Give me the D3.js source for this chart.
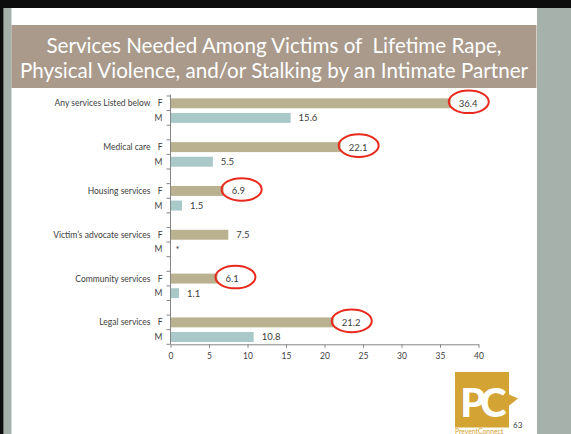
<!DOCTYPE html>
<html>
<head>
<meta charset="utf-8">
<script src="https://cdn.jsdelivr.net/npm/d3@7"></script>
<style>
  body { margin: 0; background: #fff; }
  svg { display: block; font-family: Lato, 'Open Sans', sans-serif; }
</style>
</head>
<body>
<svg id="chart"></svg>
<script>
const categories = [
  'Any services Listed below',
  'Medical care',
  'Housing services',
  'Victim\u2019s advocate services',
  'Community services',
  'Legal services'
]
const female = [36.4, 22.1, 6.9, 7.5, 6.1, 21.2]
const male = [15.6, 5.5, 1.5, null, 1.1, 10.8]
const circled = [true, true, true, false, true, true] // red rings round the F labels
const xTicks = [0, 5, 10, 15, 20, 25, 30, 35, 40]
const titleLines = [
  'Services Needed Among Victims of  Lifetime Rape,',
  'Physical Violence, and/or Stalking by an Intimate Partner'
]

const W = 571
const H = 434
const svg = d3.select('#chart').attr('width', W).attr('height', H)

// slide frame
svg.append('rect').attr('width', W).attr('height', H).attr('fill', '#fff')
svg.append('rect').attr('x', 537).attr('width', W - 537).attr('height', H).attr('fill', '#a6b1ac')
svg.append('rect').attr('x', 3.5).attr('width', 8).attr('height', H).attr('fill', '#a6b1ac')
svg.append('rect').attr('width', 3.5).attr('height', H).attr('fill', '#0d0d0d')
svg.append('rect').attr('width', W).attr('height', 8).attr('fill', '#0d0d0d')

// title banner
svg.append('rect').attr('x', 11.5).attr('y', 25).attr('width', 525).attr('height', 63).attr('fill', '#a99a8b')
svg.append('g').selectAll('text').data(titleLines).join('text')
  .attr('x', 274)
  .attr('y', (d, i) => 53 + i * 24.5)
  .attr('text-anchor', 'middle')
  .attr('fill', '#fff')
  .attr('font-size', 20.6)
  .style('white-space', 'pre')
  .text(d => d)

// rows: F, M, spacer for each category (no spacer after the last)
let rows = []
categories.forEach(function (c, i) {
  rows.push({key: i + 'F', cat: c, sex: 'F', value: female[i], ring: circled[i]})
  rows.push({key: i + 'M', sex: 'M', value: male[i]})
  if (i < categories.length - 1) rows.push({key: i + 'gap', sex: null})
})

let x = d3.scaleLinear().domain([0, 40]).range([170.5, 478.5])
let y = d3.scaleBand().domain(rows.map(r => r.key)).range([96, 344.3])
let bh = y.bandwidth() * 0.68
let bOff = (y.bandwidth() - bh) / 2

let g = svg.append('g')

// bars
g.selectAll('rect.bar').data(rows.filter(r => r.sex && r.value != null)).join('rect')
  .attr('class', 'bar')
  .attr('x', x(0))
  .attr('y', d => y(d.key) + bOff)
  .attr('width', d => x(d.value) - x(0))
  .attr('height', bh)
  .attr('fill', d => d.sex === 'F' ? '#b9b18f' : '#a9c8c8')

// value labels
g.selectAll('text.val').data(rows.filter(r => r.sex)).join('text')
  .attr('class', 'val')
  .attr('x', d => x(d.value || 0) + (d.value == null ? 5 : 8))
  .attr('y', d => y(d.key) + y.bandwidth() / 2)
  .attr('dy', '0.36em')
  .attr('font-size', 9.5)
  .attr('fill', '#404040')
  .text(d => d.value == null ? '*' : d.value)

// red rings
g.selectAll('ellipse').data(rows.filter(r => r.ring)).join('ellipse')
  .attr('cx', d => x(d.value) + 18)
  .attr('cy', d => y(d.key) + y.bandwidth() / 2 - 1.5)
  .attr('rx', 20)
  .attr('ry', 11.3)
  .attr('fill', 'none')
  .attr('stroke', '#e8291c')
  .attr('stroke-width', 2)

// y axis: line, ticks at row boundaries, labels
let bounds = rows.map(r => y(r.key)).concat([y.range()[1]])
g.append('line')
  .attr('x1', x(0)).attr('x2', x(0))
  .attr('y1', 94.5).attr('y2', y.range()[1])
  .attr('stroke', '#868686')
g.selectAll('line.ytick').data(bounds).join('line')
  .attr('class', 'ytick')
  .attr('x1', x(0) - 4).attr('x2', x(0))
  .attr('y1', d => d).attr('y2', d => d)
  .attr('stroke', '#868686')
g.selectAll('text.sex').data(rows.filter(r => r.sex)).join('text')
  .attr('class', 'sex')
  .attr('x', 162.5)
  .attr('y', d => y(d.key) + y.bandwidth() / 2)
  .attr('dy', '0.36em')
  .attr('text-anchor', 'end')
  .attr('font-size', 8.5)
  .attr('fill', '#404040')
  .text(d => d.sex)
g.selectAll('text.cat').data(rows.filter(r => r.cat)).join('text')
  .attr('class', 'cat')
  .attr('x', 150.5)
  .attr('y', d => y(d.key) + y.bandwidth() / 2)
  .attr('dy', '0.36em')
  .attr('text-anchor', 'end')
  .attr('font-size', 8.5)
  .attr('fill', '#404040')
  .text(d => d.cat)

// x axis
let xa = g.append('g')
  .attr('transform', 'translate(0,' + y.range()[1] + ')')
  .call(d3.axisBottom(x).tickValues(xTicks).tickSize(3.5).tickSizeOuter(0).tickPadding(5))
xa.select('.domain').attr('stroke', '#868686')
xa.selectAll('.tick line').attr('stroke', '#868686')
xa.selectAll('.tick text').attr('fill', '#404040').attr('font-size', 8.5)
  .attr('font-family', 'Lato, sans-serif')

// PreventConnect logo and slide number
let logo = svg.append('g')
logo.append('rect').attr('x', 455).attr('y', 372).attr('width', 54).attr('height', 55.5).attr('fill', '#d3a333')
logo.append('path').attr('d', 'M508,394 L518,398.5 L508,406.5 Z').attr('fill', '#d3a333')
logo.append('text').attr('x', 481).attr('y', 417).attr('text-anchor', 'middle')
  .attr('font-size', 40).attr('font-weight', 900).attr('letter-spacing', -5)
  .attr('font-family', 'Lato, sans-serif').attr('fill', '#fff').text('PC')
logo.append('text').attr('x', 455).attr('y', 433.5).attr('font-size', 6.8)
  .attr('fill', '#d3a333').text('PreventConnect')
svg.append('text').attr('x', 513).attr('y', 428).attr('font-size', 8)
  .attr('fill', '#404040').text('63')
</script>
</body>
</html>
